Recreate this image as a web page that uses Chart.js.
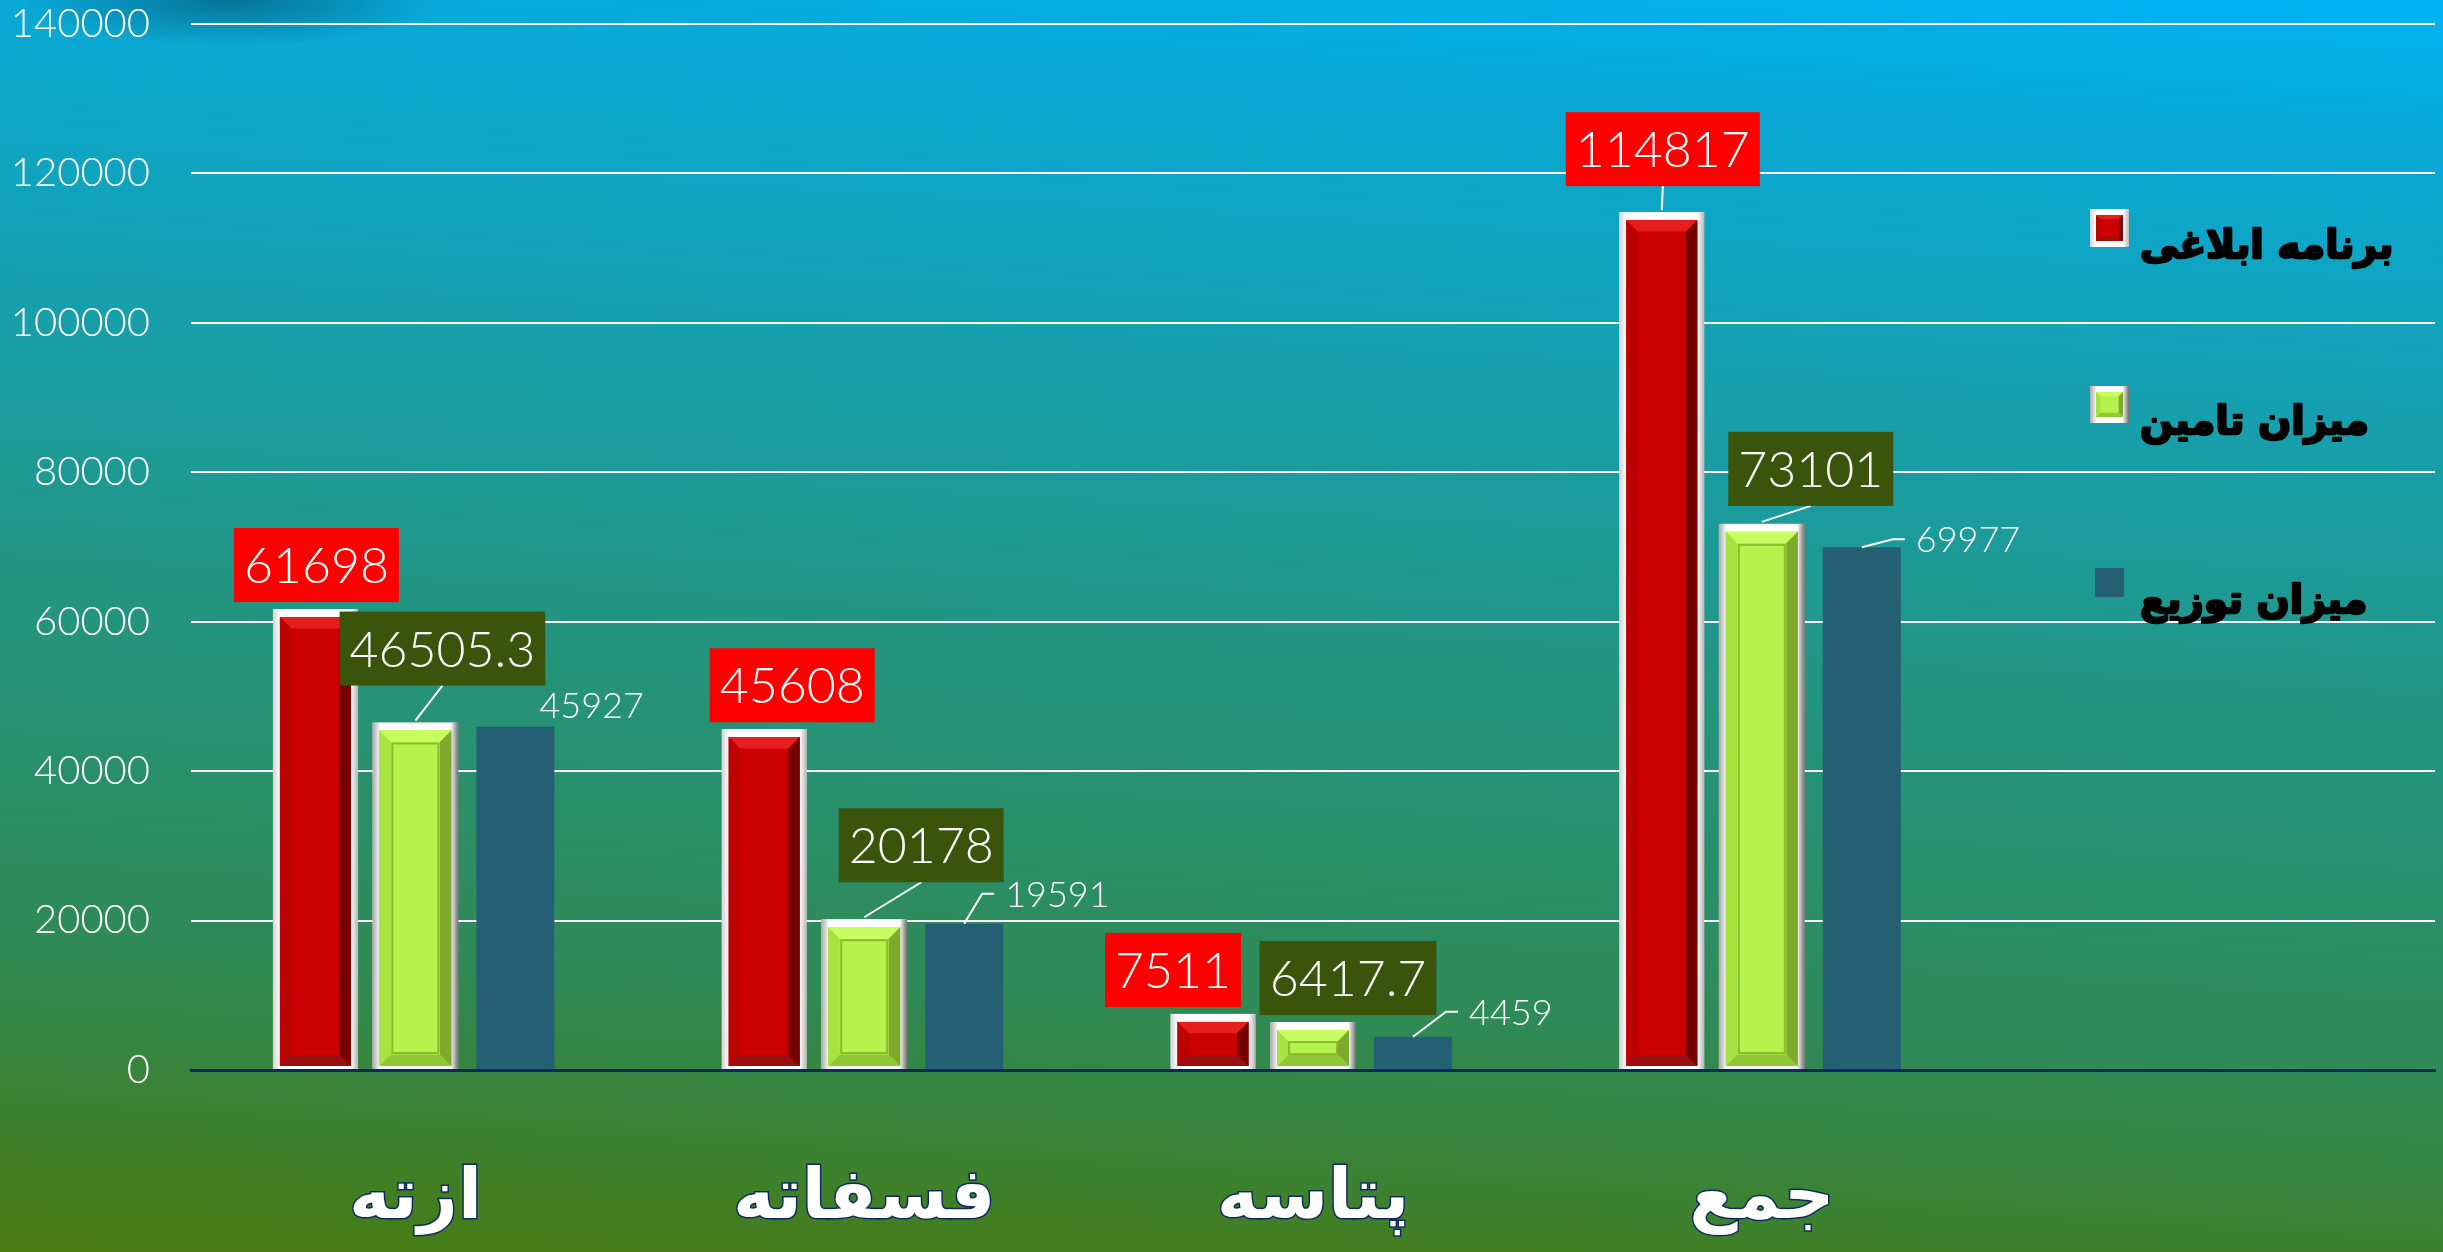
<!DOCTYPE html>
<html>
<head>
<meta charset="utf-8">
<script src="https://cdn.jsdelivr.net/npm/chart.js@4.4.1/dist/chart.umd.min.js"></script>
<style>
html,body{margin:0;padding:0;overflow:hidden;background:#1a9a9a}
#wrap{width:2443px;height:1252px;position:relative}
canvas{display:block}
</style>
</head>
<body>
<div id="wrap"><canvas id="c" width="2443" height="1252"></canvas></div>
<script>
// ---------------- data ----------------
const categories = ['ازته', 'فسفاته', 'پتاسه', 'جمع', ''];
const seriesNames = ['برنامه ابلاغی', 'میزان تامین', 'میزان توزیع'];
const planned = [61698, 45608, 7511, 114817, null];
const supplied = [46505.3, 20178, 6417.7, 73101, null];
const distributed = [45927, 19591, 4459, 69977, null];
const yTicks = [0, 20000, 40000, 60000, 80000, 100000, 120000, 140000];

// ---------------- label nudges (layout only) ----------------
// box series: [dx of box centre from bar centre, dy of box bottom from bar top, leader]
// plain series: [dx of text start from bar centre, dy of baseline from bar top, leader]
const LABEL_NUDGE = [
  [[1, -7, false], [28, -7, false], [-40, -7, false], [1, -26, true]],
  [[27, -37, true], [57, -37, true], [35, -7, false], [49, -18, true]],
  [[24, -9, false], [41, -17, true], [56, -12, true], [54, 5, true]]
];

const NUM_FONT = '"Lato", "DejaVu Sans", sans-serif';
const AR_FONT = '"DejaVu Sans", sans-serif';

function poly(ctx, pts, fill) {
  ctx.beginPath();
  ctx.moveTo(pts[0][0], pts[0][1]);
  for (let i = 1; i < pts.length; i++) ctx.lineTo(pts[i][0], pts[i][1]);
  ctx.closePath();
  ctx.fillStyle = fill;
  ctx.fill();
}

function bevel(ctx, x0, y0, x1, y1, b, cols) {
  const bb = Math.max(0, Math.min(b, (y1 - y0) / 2, (x1 - x0) / 2));
  poly(ctx, [[x0, y0], [x1, y0], [x1 - bb, y0 + bb], [x0 + bb, y0 + bb]], cols.top);
  poly(ctx, [[x0, y1], [x1, y1], [x1 - bb, y1 - bb], [x0 + bb, y1 - bb]], cols.bottom);
  poly(ctx, [[x0, y0], [x0 + bb, y0 + bb], [x0 + bb, y1 - bb], [x0, y1]], cols.left);
  poly(ctx, [[x1, y0], [x1 - bb, y0 + bb], [x1 - bb, y1 - bb], [x1, y1]], cols.right);
}

const STYLE = {
  red: { fill: '#cc0000', top: '#e81e1e', bottom: '#9a0e0e', left: '#bb0303', right: '#760000',
         frameL: ['#d2d2d2', '#ffffff'], frameR: ['#ffffff', '#b5b5b5'] },
  green: { fill: '#b5f24c', top: '#c8fd62', bottom: '#93c636', left: '#a7e33f', right: '#7ea92c',
           frameL: ['#a9a9a9', '#f2f2f2'], frameR: ['#eeeeee', '#6e6e6e'], innerLine: '#8cbc2e' }
};

function decorateBar(ctx, left, top, right, bottom, fw, ft, fb, st) {
  let g = ctx.createLinearGradient(left, 0, left + fw, 0);
  g.addColorStop(0, st.frameL[0]); g.addColorStop(1, st.frameL[1]);
  ctx.fillStyle = g; ctx.fillRect(left, top, fw, bottom - top);
  g = ctx.createLinearGradient(right - fw, 0, right, 0);
  g.addColorStop(0, st.frameR[0]); g.addColorStop(1, st.frameR[1]);
  ctx.fillStyle = g; ctx.fillRect(right - fw, top, fw, bottom - top);
  ctx.fillStyle = '#ffffff';
  ctx.fillRect(left + fw, top, right - left - 2 * fw, ft);
  const x0 = left + fw, x1 = right - fw, y0 = top + ft, y1 = bottom - fb;
  ctx.fillStyle = st.fill; ctx.fillRect(x0, y0, x1 - x0, y1 - y0);
  bevel(ctx, x0, y0, x1, y1, Math.min(14, (x1 - x0) * 0.16), st);
  if (st.innerLine && (y1 - y0) > 30) {
    const ins = Math.min(13, (y1 - y0) / 3);
    ctx.strokeStyle = st.innerLine; ctx.lineWidth = 2;
    ctx.strokeRect(x0 + ins, y0 + ins, x1 - x0 - 2 * ins, y1 - y0 - 2 * ins);
  }
}

const bgPlugin = {
  id: 'bg',
  beforeDraw(chart) {
    const { ctx, width, height } = chart;
    ctx.save();
    const g = ctx.createLinearGradient(1300, -60, 1220, 1330);
    g.addColorStop(0.00, '#00b2f2');
    g.addColorStop(0.10, '#09a9d6');
    g.addColorStop(0.42, '#1d9a96');
    g.addColorStop(0.52, '#239581');
    g.addColorStop(0.77, '#2f8a55');
    g.addColorStop(0.88, '#3b8234');
    g.addColorStop(1.00, '#4a7a0e');
    ctx.fillStyle = g;
    ctx.fillRect(0, 0, width, height);
    ctx.translate(230, 0);
    ctx.scale(1, 0.22);
    const r = ctx.createRadialGradient(0, 0, 0, 0, 0, 210);
    r.addColorStop(0, 'rgba(5,60,85,0.5)');
    r.addColorStop(1, 'rgba(5,60,85,0)');
    ctx.fillStyle = r;
    ctx.fillRect(-240, -260, 480, 520);
    ctx.restore();
  }
};

const bevelPlugin = {
  id: 'bevel',
  afterDatasetsDraw(chart) {
    const ctx = chart.ctx;
    ctx.save();
    [[0, STYLE.red], [1, STYLE.green]].forEach(([di, st]) => {
      chart.getDatasetMeta(di).data.forEach((bar, j) => {
        if (chart.data.datasets[di].data[j] == null) return;
        const p = bar.getProps(['x', 'y', 'base', 'width'], true);
        decorateBar(ctx, p.x - p.width / 2, p.y, p.x + p.width / 2, p.base, 7, 8, 3, st);
      });
    });
    ctx.restore();
  }
};

const labelPlugin = {
  id: 'valueLabels',
  afterDatasetsDraw(chart) {
    const ctx = chart.ctx;
    ctx.save();
    ctx.lineWidth = 2;
    ctx.strokeStyle = '#ffffff';
    chart.data.datasets.forEach((ds, di) => {
      const meta = chart.getDatasetMeta(di);
      meta.data.forEach((bar, j) => {
        const v = ds.data[j];
        if (v == null) return;
        const p = bar.getProps(['x', 'y'], true);
        const n = LABEL_NUDGE[di][j];
        const txt = String(v);
        if (ds.labelBox) {
          ctx.font = '300 50px ' + NUM_FONT;
          const tw = ctx.measureText(txt).width;
          const bw = tw + 20, bh = 74;
          const cx = p.x + n[0], by = p.y + n[1];
          if (n[2]) {
            ctx.beginPath(); ctx.moveTo(p.x, p.y - 2); ctx.lineTo(cx, by); ctx.stroke();
          }
          ctx.fillStyle = ds.labelBox;
          ctx.fillRect(cx - bw / 2, by - bh, bw, bh);
          ctx.fillStyle = '#ffffff';
          ctx.textAlign = 'center';
          ctx.textBaseline = 'middle';
          ctx.fillText(txt, cx, by - bh / 2 + 2);
        } else {
          ctx.font = '300 36px ' + NUM_FONT;
          const tx = p.x + n[0], base = p.y + n[1];
          const mid = base - 13;
          if (n[2]) {
            ctx.beginPath();
            ctx.moveTo(p.x, p.y);
            ctx.lineTo(tx - 23, mid);
            ctx.lineTo(tx - 11, mid);
            ctx.stroke();
          }
          ctx.fillStyle = '#ffffff';
          ctx.textAlign = 'left';
          ctx.textBaseline = 'alphabetic';
          ctx.fillText(txt, tx, base);
        }
      });
    });
    ctx.restore();
  }
};

const legendPlugin = {
  id: 'sideLegend',
  afterDraw(chart) {
    const ctx = chart.ctx;
    ctx.save();
    const items = [
      { name: seriesNames[0], box: [2090, 209, 39, 38], st: STYLE.red, base: 258 },
      { name: seriesNames[1], box: [2090, 386, 39, 37], st: STYLE.green, base: 434 },
      { name: seriesNames[2], box: [2095, 568, 29, 29], flat: '#245f73', base: 613 }
    ];
    items.forEach(it => {
      const [x, y, w, h] = it.box;
      if (it.flat) {
        ctx.fillStyle = it.flat; ctx.fillRect(x, y, w, h);
      } else {
        ctx.fillStyle = '#ffffff'; ctx.fillRect(x, y, w, h);
        decorateBar(ctx, x, y, x + w, y + h, 6, 6, 6, it.st);
      }
      ctx.fillStyle = '#000000';
      ctx.strokeStyle = '#000000';
      ctx.lineWidth = 2.5;
      ctx.lineJoin = 'round';
      ctx.font = 'bold 39px ' + AR_FONT;
      ctx.textAlign = 'left';
      ctx.textBaseline = 'alphabetic';
      ctx.strokeText(it.name, 2140, it.base);
      ctx.fillText(it.name, 2140, it.base);
    });
    ctx.restore();
  }
};

const catPct = 300 / 448.8;

new Chart(document.getElementById('c'), {
  type: 'bar',
  data: {
    labels: categories,
    datasets: [
      { label: seriesNames[0], data: planned, backgroundColor: '#cc0000', borderColor: '#ffffff',
        borderWidth: { top: 8, left: 7, right: 7, bottom: 3 }, borderSkipped: false,
        barPercentage: 0.85, categoryPercentage: catPct, labelBox: '#ff0000' },
      { label: seriesNames[1], data: supplied, backgroundColor: '#b5f24c', borderColor: '#f2f2f2',
        borderWidth: { top: 8, left: 7, right: 7, bottom: 3 }, borderSkipped: false,
        barPercentage: 0.86, categoryPercentage: catPct, labelBox: '#3a540c' },
      { label: seriesNames[2], data: distributed, backgroundColor: '#245f73', borderWidth: 0,
        barPercentage: 0.78, categoryPercentage: catPct }
    ]
  },
  options: {
    responsive: false,
    animation: false,
    devicePixelRatio: 1,
    layout: { padding: { top: 24, right: 8, left: 0, bottom: 0 } },
    plugins: { legend: { display: false }, tooltip: { enabled: false }, title: { display: false } },
    scales: {
      x: {
        z: 1,
        grid: { display: false, drawTicks: false },
        border: { display: true, color: '#0b2a5c', width: 3 },
        ticks: {
          color: '#ffffff',
          font: { family: 'DejaVu Sans', size: 70, weight: 'bold' },
          textStrokeColor: '#0d2b5c',
          textStrokeWidth: 3,
          padding: 88,
          maxRotation: 0,
          autoSkip: false
        },
        afterFit(scale) { scale.height = 182; scale.paddingLeft = 0; scale.paddingRight = 0; }
      },
      y: {
        min: 0,
        max: 140000,
        grid: { color: '#ffffff', lineWidth: 2, drawTicks: false },
        border: { display: false },
        ticks: {
          color: '#ffffff',
          font: { family: 'Lato', size: 40, weight: '300' },
          padding: 41,
          callback: v => String(v)
        },
        afterBuildTicks(scale) { scale.ticks = yTicks.map(v => ({ value: v })); },
        afterFit(scale) { scale.width = 191; scale.paddingTop = 0; scale.paddingBottom = 0; }
      }
    }
  },
  plugins: [bgPlugin, bevelPlugin, labelPlugin, legendPlugin]
});
</script>
</body>
</html>
